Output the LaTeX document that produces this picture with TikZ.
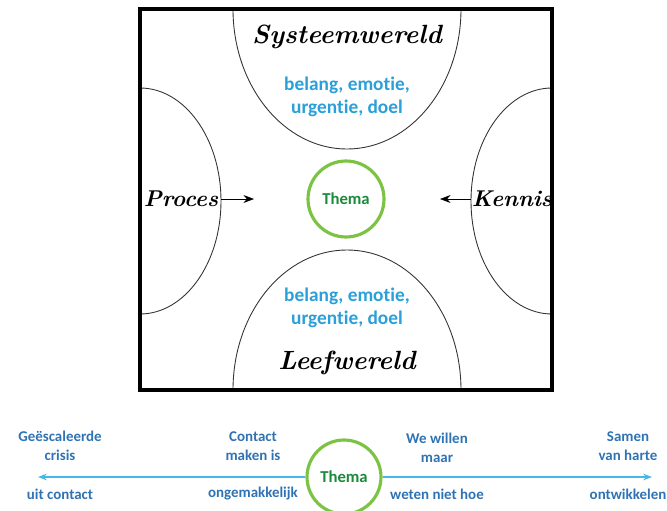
\documentclass[tikz,border=0pt]{standalone}
\usepackage{fontspec}
\newfontfamily\calib[Ligatures={NoCommon}]{Carlito}
\usepackage{tikz}
\usetikzlibrary{positioning,calc,arrows.meta}
\usepackage{xcolor}
\definecolor{lightblue}{HTML}{2A9FD8}
\definecolor{darkblue}{HTML}{2F73B4}
\definecolor{linkblue}{HTML}{45B8E8}
\definecolor{themagreen}{HTML}{7CC243}
\definecolor{themadark}{HTML}{1B8A3A}

\tikzset{
  hand/.style={font=\fontsize{15}{18}\selectfont\itshape\bfseries},
  blueline/.style={font=\calib\fontsize{11}{13}\selectfont\bfseries,text=lightblue,align=center},
  scaletext/.style={font=\calib\fontsize{8.5}{10.5}\selectfont\bfseries,text=darkblue,align=center},
  themacircle/.style={circle,draw=themagreen,line width=1.8pt,minimum size=#1,inner sep=0pt,
    font=\calib\fontsize{9.5}{11}\selectfont\bfseries,text=themadark},
  halfcurve/.style={draw=black!80,line width=0.5pt}
}

\begin{document}
\begin{tikzpicture}[x=0.02cm,y=-0.02cm]
\clip (0,0) rectangle (667,511);

% kader met de vier halve ellipsen
\begin{scope}
\clip (140,9) rectangle (552,390);
\draw[halfcurve] (347,9) ellipse [x radius=114,y radius=140];
\draw[halfcurve] (347,390) ellipse [x radius=114,y radius=140];
\draw[halfcurve] (140,201) ellipse [x radius=81,y radius=113];
\draw[halfcurve] (552,201) ellipse [x radius=81,y radius=113];
\end{scope}
\draw[line width=1.8pt] (140,9) rectangle (552,390);

% teksten in het kader
\node[hand] (systeem) at (347,37) {Systeemwereld};
\node[blueline] (systeemtxt) at (347,97) {belang, emotie,\\urgentie, doel};
\node[blueline] (leeftxt) at (347,308) {belang, emotie,\\urgentie, doel};
\node[hand] (leef) at (347,363) {Leefwereld};
\node[hand,font=\fontsize{13}{15}\selectfont\itshape\bfseries] (proces) at (181,199) {Proces};
\node[hand,font=\fontsize{13}{15}\selectfont\itshape\bfseries] (kennis) at (512,199) {Kennis};
\node[themacircle=1.52cm] (thema) at (346,199) {Thema};

\coordinate (procesStart) at (221,199);
\coordinate (procesEnd) at (254,199);
\coordinate (kennisStart) at (471,199);
\coordinate (kennisEnd) at (440,199);
\draw[-{Stealth[length=6pt]}] (procesStart) -- (procesEnd);
\draw[-{Stealth[length=6pt]}] (kennisStart) -- (kennisEnd);

% schaal onderaan
\node[themacircle=1.48cm] (themaB) at (344,477) {Thema};
\coordinate (leftEnd) at (38,477);
\coordinate (rightEnd) at (652,477);
\draw[linkblue,line width=0.8pt,-{Stealth[length=5pt]}] (themaB) -- (leftEnd);
\draw[linkblue,line width=0.8pt,-{Stealth[length=5pt]}] (themaB) -- (rightEnd);

\node[scaletext] (crisis) at (60,446) {Geëscaleerde\\crisis};
\node[scaletext] (uitcontact) at (60,494) {uit contact};
\node[scaletext] (contact) at (253,446) {Contact\\maken is};
\node[scaletext] (ongemak) at (253,494) {ongemakkelijk};
\node[scaletext] (willen) at (437,448) {We willen\\maar};
\node[scaletext] (weten) at (437,494) {weten niet hoe};
\node[scaletext] (samen) at (628,446) {Samen\\van harte};
\node[scaletext] (ontwikkel) at (628,494) {ontwikkelen};
\end{tikzpicture}
\end{document}
